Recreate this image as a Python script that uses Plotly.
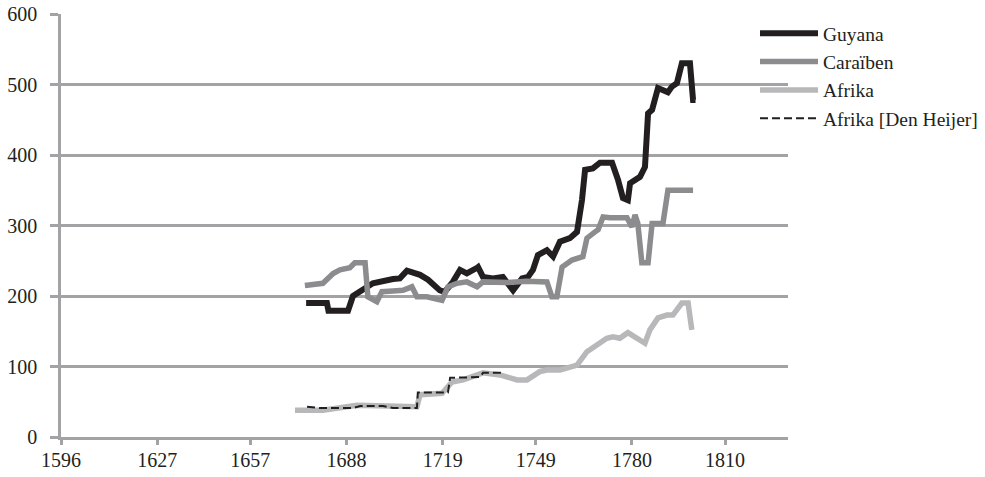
import plotly.graph_objects as go

# ---- data ----
guyana_years = [1675, 1681.7, 1682.2, 1688.5, 1690.1, 1692.4, 1696.5, 1703.0, 1705.2, 1707.5,
                1711.7, 1714.3, 1718.1, 1719.7, 1722.3, 1724.6, 1726.8, 1730.1, 1730.4, 1732.0,
                1735.2, 1738.4, 1741.7, 1744.6, 1746.5, 1748.1, 1749.7, 1752.6, 1754.6, 1756.8,
                1760.0, 1762.3, 1763.9, 1764.9, 1767.4, 1769.7, 1773.6, 1775.5, 1777.1, 1778.7,
                1779.4, 1782.6, 1784.2, 1785.2, 1786.5, 1788.4, 1791.6, 1792.9, 1794.5, 1796.1,
                1798.7, 1799.7, 1800.5]
guyana_vals = [190, 190, 179, 179, 200, 206, 218, 224, 225, 236,
               230, 223, 208, 206, 220, 237, 232, 240, 241, 227,
               225, 227, 208, 225, 227, 237, 258, 265, 256, 277,
               282, 291, 336, 379, 381, 389, 389, 365, 339, 336,
               360, 369, 383, 459, 464, 495, 489, 497, 502, 530,
               530, 478, 478]

carib_years = [1674.6, 1680.4, 1683.7, 1685.9, 1689.1, 1690.7, 1694.0, 1694.9, 1697.8, 1699.4,
               1703.0, 1706.2, 1709.1, 1710.7, 1713.9, 1716.5, 1718.8, 1720.7, 1723.6, 1726.8,
               1730.1, 1732.0, 1740.0, 1746.0, 1752.6, 1754.2, 1755.8, 1757.5, 1759.1, 1760.7,
               1764.2, 1765.5, 1768.1, 1769.1, 1770.7, 1772.9, 1778.4, 1780.0, 1781.0, 1781.9,
               1783.2, 1785.2, 1786.5, 1790.0, 1791.6, 1799.7]
carib_vals = [215, 218, 232, 237, 240, 247, 247, 199, 192, 206,
              207, 208, 213, 199, 199, 196, 194, 213, 218, 220,
              213, 220, 219, 221, 220, 199, 199, 241, 247, 251,
              256, 282, 291, 294, 312, 311, 311, 298, 315, 303,
              247, 247, 303, 303, 350, 350]

afrika_years = [1671.4, 1680.4, 1691.4, 1705.2, 1710.7, 1711.7, 1718.8, 1722.0, 1725.6, 1732.0,
                1737.5, 1743.0, 1746.2, 1750.4, 1752.6, 1756.8, 1760.0, 1762.3, 1765.5, 1768.7,
                1771.9, 1773.9, 1776.1, 1778.7, 1781.6, 1784.2, 1785.8, 1788.4, 1791.3, 1793.2,
                1796.1, 1798.1, 1799.3]
afrika_vals = [38, 38, 45, 44, 43, 60, 62, 78, 81, 91,
               88, 81, 81, 93, 95, 95, 100, 102, 121, 130,
               140, 142, 140, 148, 140, 133, 152, 169, 173, 173,
               190, 190, 152]

heijer_years = [1675.3, 1679.5, 1690.1, 1692.4, 1699.8, 1703.0, 1710.7, 1711.0, 1720.7, 1721.4,
                1731.0, 1732.0, 1738.4]
heijer_vals = [43, 41, 41, 44, 44, 41, 41, 63, 63, 84,
               85, 91, 91]

x_ticks = [1596, 1627, 1657, 1688, 1719, 1749, 1780, 1810]
y_ticks = [0, 100, 200, 300, 400, 500, 600]

GRID = "#a3a3a5"
FONT = "Liberation Serif"

fig = go.Figure()
fig.add_trace(go.Scatter(x=guyana_years, y=guyana_vals, mode="lines", name="Guyana",
                         line=dict(color="#231f20", width=6)))
fig.add_trace(go.Scatter(x=carib_years, y=carib_vals, mode="lines", name="Caraïben",
                         line=dict(color="#8c8c8f", width=5.5)))
fig.add_trace(go.Scatter(x=afrika_years, y=afrika_vals, mode="lines", name="Afrika",
                         line=dict(color="#b8b8ba", width=5.5)))
fig.add_trace(go.Scatter(x=heijer_years, y=heijer_vals, mode="lines", name="Afrika [Den Heijer]",
                         line=dict(color="#231f20", width=2, dash="8px,4px")))

fig.update_layout(
    width=985, height=477,
    margin=dict(l=61, r=197, t=14, b=40, autoexpand=False),
    paper_bgcolor="white", plot_bgcolor="white",
    font=dict(family=FONT, size=20, color="#231f20"),
    showlegend=True,
    legend=dict(x=0.9546, y=1.0, xanchor="left", yanchor="top",
                font=dict(family=FONT, size=19.5, color="#231f20"),
                bgcolor="rgba(0,0,0,0)", tracegroupgap=0, itemwidth=58),
)
fig.update_xaxes(range=[1596, 1830.3], tickmode="array", tickvals=x_ticks,
                 ticktext=[str(v) for v in x_ticks],
                 showgrid=False, zeroline=False, automargin=False,
                 showline=True, linecolor=GRID, linewidth=2.5,
                 ticks="outside", ticklen=5, tickwidth=2.5, tickcolor=GRID,
                 tickfont=dict(family=FONT, size=20, color="#231f20"),
                 ticklabelstandoff=-2)
fig.update_yaxes(range=[0, 600], tickmode="array", tickvals=y_ticks,
                 showgrid=True, gridcolor=GRID, gridwidth=2.5, zeroline=False,
                 automargin=False,
                 showline=True, linecolor=GRID, linewidth=2.5,
                 ticks="outside", ticklen=8, tickwidth=2.5, tickcolor=GRID,
                 tickfont=dict(family=FONT, size=20, color="#231f20"),
                 ticklabelstandoff=9)

# remove the browser's default 8px body margin so the figure fills the window
fig.write_html("out.html",
               config={"displayModeBar": False, "staticPlot": False},
               post_script="document.body.style.margin='0';document.body.style.overflow='hidden';")
